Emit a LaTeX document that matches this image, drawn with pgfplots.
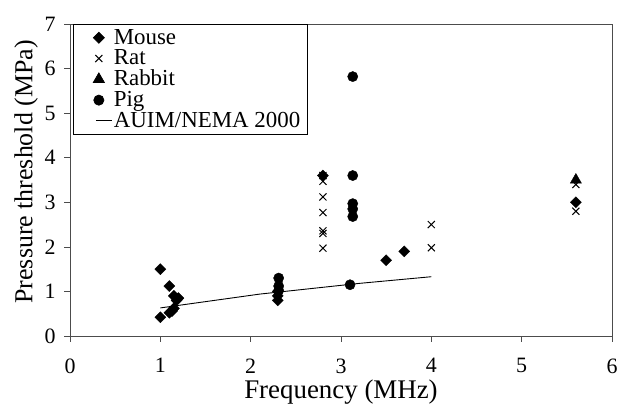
\documentclass[border=0pt]{standalone}
\usepackage{pgfplots}
\pgfplotsset{compat=1.18}
\usepackage{fontspec}
\setmainfont{Liberation Serif}
\pgfplotsset{
  legmark/.style={legend image code/.code={\fill[white] (0bp,0bp) circle (0.05bp); \fill[white] (32bp,0bp) circle (0.05bp); \draw[##1] plot coordinates {(19bp,0bp)};}},
  legline/.style={legend image code/.code={\fill[white] (0bp,0bp) circle (0.05bp); \draw[##1] (16bp,0bp) -- (32bp,0bp);}},
}
\begin{document}
\begin{tikzpicture}
\begin{axis}[
  name=ax,
  scale only axis,
  width=542bp, height=312bp,
  xmin=0, xmax=6, ymin=0, ymax=7,
  xtick={0,1,2,3,4,5,6}, ytick={0,1,2,3,4,5,6,7},
  tick align=outside, tick pos=left,
  major tick length=6bp,
  axis line style={line width=0.7pt, black!70},
  every tick/.style={black!70, line width=0.7pt},
  /pgf/number format/assume math mode=true,
  tick label style={font=\fontsize{22}{24}\selectfont},
  xticklabel style={yshift=-13bp},
  yticklabel style={xshift=-5bp},
  xlabel={Frequency (MHz)},
  ylabel={Pressure threshold (MPa)},
  xlabel style={font=\fontsize{27}{29}\selectfont, at={(axis description cs:0.5,-0.18)}, anchor=center},
  ylabel style={font=\fontsize{26}{28}\selectfont, at={(axis description cs:-0.081,0.526)}, anchor=center},
  legend style={at={(0,1)}, xshift=3bp, anchor=north west, draw=black, line width=0.7pt,
    font=\fontsize{23}{25}\selectfont, inner xsep=6bp, inner ysep=3bp, row sep=0bp, column sep=0bp,
    legend cell align=left,
    nodes={inner ysep=1bp, inner xsep=1.5bp, text height=15.8bp, text depth=3bp}},
]
\addplot[only marks, mark=square*, mark size=3.9bp, black, mark options={rotate=45}, legmark] coordinates {
 (1.0,1.5) (1.0,0.42) (1.1,1.12) (1.15,0.9) (1.18,0.8) (1.2,0.85)
 (1.15,0.62) (1.1,0.52) (1.13,0.56)
 (2.3,0.8) (2.3,0.9) (2.3,1.0)
 (3.5,1.7) (3.7,1.9) (5.6,3.0) (2.8,3.6)
};
\addlegendentry{Mouse}
\addplot[only marks, mark=x, mark size=5bp, black, mark options={line width=1pt}, legmark] coordinates {
 (2.8,3.6) (2.8,3.47) (2.8,3.12) (2.8,2.77) (2.8,2.36) (2.8,2.3) (2.8,1.97)
 (4.0,2.5) (4.0,1.98)
 (5.6,3.4) (5.6,2.8)
};
\addlegendentry{Rat}
\addplot[only marks, mark=triangle*, mark size=6.5bp, black, legmark] coordinates {
 (5.6,3.5)
};
\addlegendentry{Rabbit}
\addplot[only marks, mark=*, mark size=5.1bp, black, legmark] coordinates {
 (3.13,5.82) (3.13,3.6) (3.13,2.97) (3.13,2.85) (3.13,2.68) (3.1,1.15)
 (2.31,1.3) (2.31,1.12) (2.31,1.02)
};
\addlegendentry{Pig}
\addplot[black, line width=0.9pt, legline] coordinates {
 (1.0,0.63) (2.1,0.94) (3.2,1.18) (4.0,1.33)
};
\addlegendentry{AUIM/NEMA 2000}
\end{axis}
\pgfresetboundingbox
\path[use as bounding box] ([xshift=-70bp,yshift=-69bp]ax.south west) rectangle ([xshift=10bp,yshift=24bp]ax.north east);
\end{tikzpicture}
\end{document}
